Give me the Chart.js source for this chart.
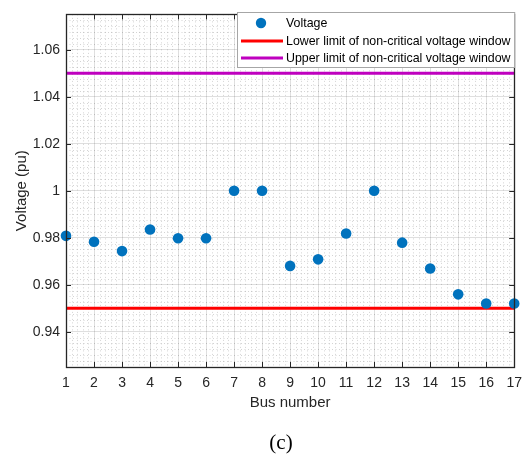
<!DOCTYPE html>
<html>
<head>
<meta charset="utf-8">
<script src="https://cdn.jsdelivr.net/npm/chart.js@4/dist/chart.umd.min.js"></script>
<style>
html,body{margin:0;padding:0;background:#fff;}
canvas{display:block;}
</style>
</head>
<body>
<canvas id="c" width="530" height="456" style="width:530px;height:456px"></canvas>
<script>
// ---- data ----
const busNumbers = [1,2,3,4,5,6,7,8,9,10,11,12,13,14,15,16,17];
const voltage = [0.9808,0.9783,0.9743,0.9835,0.9798,0.9798,1.0,1.0,0.968,0.9708,0.9818,1.0,0.9779,0.9669,0.9559,0.952,0.952];
const lowerLimit = 0.95;
const upperLimit = 1.05;
const yTickValues = [0.94,0.96,0.98,1.0,1.02,1.04,1.06];
const yTickLabels = ['0.94','0.96','0.98','1','1.02','1.04','1.06'];
const xTickValues = busNumbers;
const seriesNames = ['Voltage','Lower limit of non-critical voltage window','Upper limit of non-critical voltage window'];
const captionText = '(c)';

const BLUE = '#0072BD', RED = '#FF0000', MAG = '#BF00BF', AX = '#262626';
const FONT = '"Liberation Sans", Arial, sans-serif';

const xMin = busNumbers[0], xMax = busNumbers[busNumbers.length-1];

const scatterData = busNumbers.map((b,i)=>({x:b,y:voltage[i]}));
const lowerData = [{x:xMin,y:lowerLimit},{x:xMax,y:lowerLimit}];
const upperData = [{x:xMin,y:upperLimit},{x:xMax,y:upperLimit}];

const decorPlugin = {
  id:'decor',
  beforeDatasetsDraw(chart){
    const {ctx, chartArea:a, scales:{x,y}} = chart;
    ctx.save();
    ctx.beginPath();
    ctx.rect(a.left,a.top,a.right-a.left,a.bottom-a.top);
    ctx.clip();
    ctx.strokeStyle='rgba(38,38,38,0.2)';
    ctx.lineWidth=1;
    ctx.setLineDash([1,2.5]);
    // minor x grid (0.2 steps)
    for(let k=xMin*5;k<=xMax*5;k++){
      if(k%5===0) continue;
      const px=Math.round(x.getPixelForValue(k/5))+0.5;
      ctx.beginPath();ctx.moveTo(px,a.top);ctx.lineTo(px,a.bottom);ctx.stroke();
    }
    // minor y grid (0.0025 steps)
    for(let k=370;k<=430;k++){
      if(k%8===0) continue;
      const py=Math.round(y.getPixelForValue(k/400))+0.5;
      ctx.beginPath();ctx.moveTo(a.left,py);ctx.lineTo(a.right,py);ctx.stroke();
    }
    ctx.restore();
  },
  afterDraw(chart){
    const {ctx, chartArea:a, scales:{x,y}} = chart;
    ctx.save();
    // box
    ctx.strokeStyle=AX; ctx.lineWidth=1.3; ctx.setLineDash([]);
    ctx.strokeRect(Math.round(a.left)+0.5,Math.round(a.top)+0.5,Math.round(a.right-a.left),Math.round(a.bottom-a.top));
    // inward ticks
    ctx.lineWidth=1;
    const T=5;
    xTickValues.forEach(v=>{
      const px=Math.round(x.getPixelForValue(v))+0.5;
      ctx.beginPath();ctx.moveTo(px,a.bottom);ctx.lineTo(px,a.bottom-T);ctx.stroke();
      ctx.beginPath();ctx.moveTo(px,a.top);ctx.lineTo(px,a.top+T);ctx.stroke();
    });
    yTickValues.forEach(v=>{
      const py=Math.round(y.getPixelForValue(v))+0.5;
      ctx.beginPath();ctx.moveTo(a.left,py);ctx.lineTo(a.left+T,py);ctx.stroke();
      ctx.beginPath();ctx.moveTo(a.right,py);ctx.lineTo(a.right-T,py);ctx.stroke();
    });
    // legend
    const L={left:237.5,top:12.5,right:a.right+0.5,bottom:67.5};
    ctx.fillStyle='#fff';
    ctx.fillRect(L.left,L.top,L.right-L.left,L.bottom-L.top);
    ctx.strokeStyle='#a6a6a6';ctx.lineWidth=1;
    ctx.strokeRect(L.left,L.top,L.right-L.left,L.bottom-L.top);
    const rows=[23,41,58];
    ctx.font='12.4px '+FONT;
    ctx.fillStyle='#000';
    ctx.textBaseline='middle';ctx.textAlign='left';
    seriesNames.forEach((n,i)=>ctx.fillText(n,286,rows[i]+0.5));
    ctx.fillStyle=BLUE;
    ctx.beginPath();ctx.arc(261,rows[0],5.2,0,Math.PI*2);ctx.fill();
    ctx.lineWidth=3;
    ctx.strokeStyle=RED;ctx.beginPath();ctx.moveTo(241,rows[1]);ctx.lineTo(283,rows[1]);ctx.stroke();
    ctx.strokeStyle=MAG;ctx.beginPath();ctx.moveTo(241,rows[2]);ctx.lineTo(283,rows[2]);ctx.stroke();
    // caption
    ctx.fillStyle='#000';
    ctx.font='21px "Liberation Serif", "Times New Roman", serif';
    ctx.textAlign='center';
    ctx.fillText(captionText,281,443);
    ctx.restore();
  }
};

new Chart(document.getElementById('c'),{
  type:'scatter',
  data:{datasets:[
    {label:seriesNames[0],data:scatterData,backgroundColor:BLUE,borderColor:BLUE,pointRadius:5.3,pointHoverRadius:5.3,borderWidth:0,clip:false},
    {label:seriesNames[1],type:'line',data:lowerData,borderColor:RED,borderWidth:3,pointRadius:0,fill:false,clip:false},
    {label:seriesNames[2],type:'line',data:upperData,borderColor:MAG,borderWidth:3,pointRadius:0,fill:false,clip:false}
  ]},
  options:{
    responsive:false,
    animation:false,
    devicePixelRatio:1,
    layout:{padding:{left:0,right:15,top:12,bottom:0}},
    plugins:{legend:{display:false},tooltip:{enabled:false}},
    scales:{
      x:{
        type:'linear',min:xMin,max:xMax,
        afterFit(s){s.height=89;},
        afterBuildTicks(s){s.ticks=xTickValues.map(v=>({value:v}));},
        ticks:{color:AX,font:{family:FONT,size:14},padding:8,maxRotation:0,autoSkip:false,callback:(v)=>String(v)},
        grid:{color:'rgba(38,38,38,0.15)',drawTicks:false,lineWidth:1},
        border:{display:false},
        title:{display:true,text:'Bus number',color:AX,font:{family:FONT,size:15},padding:{top:0,bottom:44}}
      },
      y:{
        type:'linear',min:0.925,max:1.075,
        afterFit(s){s.width=66;},
        afterBuildTicks(s){s.ticks=yTickValues.map(v=>({value:v}));},
        ticks:{color:AX,font:{family:FONT,size:14},padding:6,autoSkip:false,callback:(v)=>{const i=yTickValues.findIndex(t=>Math.abs(t-v)<1e-9);return i>=0?yTickLabels[i]:'';}},
        grid:{color:'rgba(38,38,38,0.15)',drawTicks:false,lineWidth:1},
        border:{display:false},
        title:{display:true,text:'Voltage (pu)',color:AX,font:{family:FONT,size:15},padding:{top:13,bottom:0}}
      }
    }
  },
  plugins:[decorPlugin]
});
</script>
</body>
</html>
